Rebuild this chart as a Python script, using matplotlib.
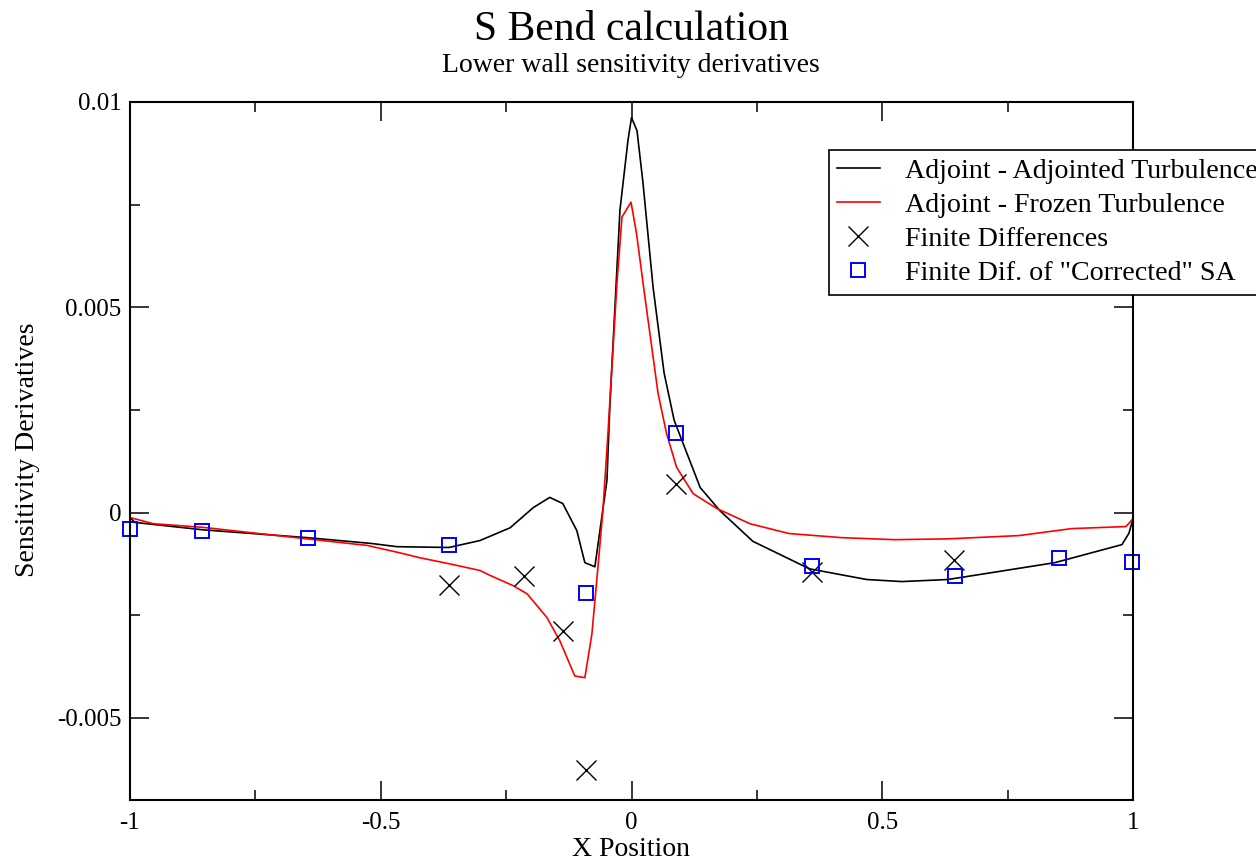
import matplotlib
matplotlib.use('Agg')
import matplotlib.pyplot as plt
from matplotlib.ticker import FixedLocator, FixedFormatter, MultipleLocator

plt.rcParams['font.family'] = ['Liberation Serif', 'DejaVu Serif']
plt.rcParams['axes.unicode_minus'] = False

# Adjoint - Adjointed Turbulence (black line)
x_adj = [-1.0, -0.99, -0.854, -0.647, -0.52, -0.468, -0.364, -0.302, -0.242, -0.196,
         -0.163, -0.137, -0.109, -0.093, -0.073, -0.063, -0.049, -0.043, -0.023, -0.007,
         0.0, 0.011, 0.023, 0.043, 0.065, 0.085, 0.103, 0.137, 0.176, 0.242, 0.355,
         0.469, 0.539, 0.631, 0.844, 0.978, 0.992, 1.0]
y_adj = [-0.00012, -0.00024, -0.00042, -0.00061, -0.00075, -0.00083, -0.00085, -0.00068, -0.00037, 0.00012,
         0.00037, 0.00022, -0.00044, -0.00122, -0.00132, -0.00044, 0.00078, 0.00265, 0.00737, 0.00907,
         0.00962, 0.00930, 0.00802, 0.00549, 0.00340, 0.00225, 0.00168, 0.00061, 0.00005, -0.00070, -0.00137,
         -0.00163, -0.00168, -0.00163, -0.00122, -0.00078, -0.00050, -0.00015]

# Adjoint - Frozen Turbulence (red line)
x_frz = [-1.0, -0.954, -0.854, -0.647, -0.527, -0.462, -0.422, -0.362, -0.302, -0.282,
         -0.236, -0.208, -0.169, -0.143, -0.113, -0.093, -0.079, -0.067, -0.057, -0.047,
         -0.029, -0.019, -0.001, 0.01, 0.024, 0.053, 0.07, 0.09, 0.123, 0.17,
         0.236, 0.314, 0.419, 0.525, 0.631, 0.773, 0.878, 0.986, 1.0]
y_frz = [-0.00012, -0.00027, -0.00036, -0.00064, -0.00080, -0.00098, -0.00110, -0.00125, -0.00141, -0.00153,
         -0.00178, -0.00198, -0.00255, -0.00312, -0.00398, -0.00402, -0.00296, -0.00134, 0.00005, 0.00192,
         0.00559, 0.00720, 0.00756, 0.00680, 0.00550, 0.00290, 0.00192, 0.00110, 0.00046, 0.00010,
         -0.00027, -0.00051, -0.00061, -0.00066, -0.00064, -0.00056, -0.00039, -0.00034, -0.00015]

# Finite Differences (crosses)
x_fd = [-0.364, -0.214, -0.136, -0.091, 0.089, 0.36, 0.643]
y_fd = [-0.00176, -0.00154, -0.00288, -0.00627, 0.0007, -0.00144, -0.00115]

# Finite Dif. of "Corrected" SA (squares)
x_sa = [-1.0, -0.857, -0.645, -0.364, -0.091, 0.089, 0.36, 0.645, 0.853, 0.998]
y_sa = [-0.0004, -0.00044, -0.00061, -0.0008, -0.00195, 0.00193, -0.00129, -0.00154, -0.0011, -0.0012]

xticks = [-1, -0.5, 0, 0.5, 1]
xticklabels = ['-1', '-0.5', '0', '0.5', '1']
yticks = [-0.005, 0, 0.005, 0.01]
yticklabels = ['-0.005', '0', '0.005', '0.01']

fig = plt.figure(figsize=(12.56, 8.61), dpi=100)
ax = fig.add_axes([130 / 1256, 61 / 861, 1003 / 1256, 698 / 861])

ax.plot(x_adj, y_adj, color='black', lw=1.2, label='Adjoint - Adjointed Turbulence')
ax.plot(x_frz, y_frz, color='red', lw=1.2, label='Adjoint - Frozen Turbulence')
ax.plot(x_fd, y_fd, ls='none', marker='x', ms=14, mew=1.0, color='black',
        label='Finite Differences', clip_on=False)
ax.plot(x_sa, y_sa, ls='none', marker='s', ms=9.5, mew=1.4, mfc='none', mec='#0000ff',
        label='Finite Dif. of "Corrected" SA', clip_on=False)

ax.set_xlim(-1, 1)
ax.set_ylim(-0.007, 0.01)
ax.xaxis.set_major_locator(FixedLocator(xticks))
ax.xaxis.set_major_formatter(FixedFormatter(xticklabels))
ax.yaxis.set_major_locator(FixedLocator(yticks))
ax.yaxis.set_major_formatter(FixedFormatter(yticklabels))
ax.xaxis.set_minor_locator(MultipleLocator(0.25))
ax.yaxis.set_minor_locator(MultipleLocator(0.0025))
ax.tick_params(which='both', direction='in', top=True, right=True, width=1.1)
ax.tick_params(which='major', length=13.5)
ax.tick_params(which='minor', length=7)
ax.tick_params(axis='x', which='major', labelsize=18, pad=8.5)
ax.tick_params(axis='y', which='major', labelsize=18, pad=6)
for sp in ax.spines.values():
    sp.set_linewidth(1.5)

fig.text(0.5025, 1 - 39.5 / 861, 'S Bend calculation', fontsize=30, ha='center', va='baseline')
fig.text(0.5025, 1 - 72 / 861, 'Lower wall sensitivity derivatives', fontsize=20, ha='center', va='baseline')
fig.text(0.5025, 4.5 / 861, 'X Position', fontsize=20, ha='center', va='baseline')
fig.text(28 / 1256, 0.478, 'Sensitivity Derivatives', fontsize=20, ha='center', va='center', rotation=90)

leg = ax.legend(loc='upper left', bbox_to_anchor=(829 / 1256, 1 - 150 / 861),
                bbox_transform=fig.transFigure, borderaxespad=0, fontsize=20.2,
                frameon=True, fancybox=False, framealpha=1, edgecolor='black',
                handlelength=1.5, handletextpad=0.9, borderpad=0.3, labelspacing=0.3,
                numpoints=1)
leg.get_frame().set_linewidth(1.2)

fig.savefig('out.png', dpi=100)
